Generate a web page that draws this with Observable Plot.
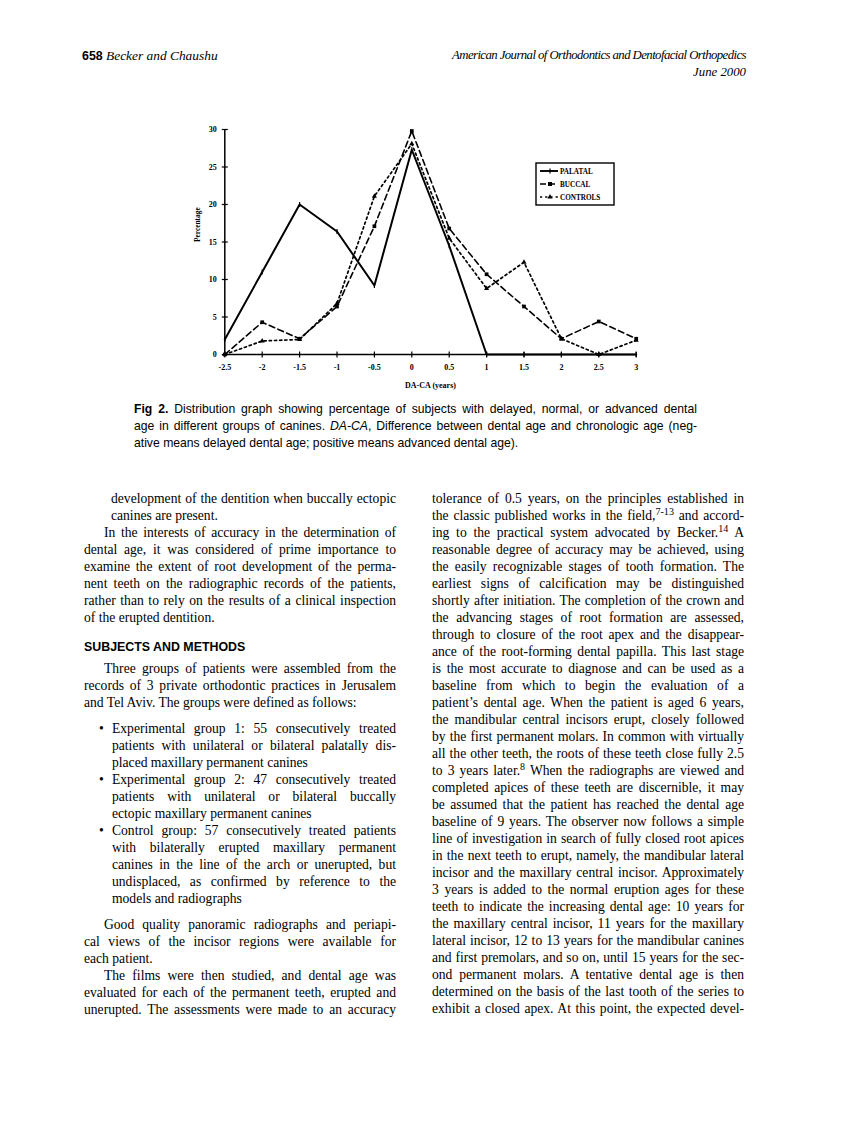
<!DOCTYPE html>
<html>
<head>
<meta charset="utf-8">
<script src="https://cdn.jsdelivr.net/npm/d3@7"></script>
<script src="https://cdn.jsdelivr.net/npm/@observablehq/plot@0.6"></script>
<style>
  html, body { margin: 0; padding: 0; background: #fff; }
  #page { position: relative; width: 866px; height: 1122px; overflow: hidden; background: #fff; color: #000; }
  .ln { position: absolute; white-space: nowrap; line-height: 17px; height: 17px; }
  .serif { font-family: "Liberation Serif", "Times New Roman", serif; font-size: 13.6px; }
  .sans { font-family: "Liberation Sans", Arial, sans-serif; }
  sup { font-size: 0.74em; line-height: 0; vertical-align: 0.45em; }
  #chart { position: absolute; left: 0; top: 100px; }
  #legend { position: absolute; left: 535px; top: 162px; }
</style>
</head>
<body>
<div id="page"></div>
<script>
// ---------------- chart data ----------------
const xTicks = [-2.5, -2, -1.5, -1, -0.5, 0, 0.5, 1, 1.5, 2, 2.5, 3];
const xTickLabels = ["-2.5", "-2", "-1.5", "-1", "-0.5", "0", "0.5", "1", "1.5", "2", "2.5", "3"];
const yTicks = [0, 5, 10, 15, 20, 25, 30];
const palatal  = [2.0, 11.0, 20.0, 16.4, 9.2, 27.3, 14.5, 0, 0, 0, 0, 0];
const buccal   = [0, 4.3, 2.1, 6.4, 17.1, 29.8, 16.8, 10.7, 6.4, 2.1, 4.4, 2.1];
const controls = [0, 1.8, 2.0, 6.8, 21.1, 28.1, 15.5, 8.8, 12.3, 2.1, 0, 1.9];
const seriesNames = ["PALATAL", "BUCCAL", "CONTROLS"];
const xLabel = "DA-CA (years)";
const yLabel = "Percentage";

// ---------------- page texts ----------------
const leftLines = [
  [500, 111, true,  "development of the dentition when buccally ectopic"],
  [517, 111, false, "canines are present."],
  [534, 104, true,  "In the interests of accuracy in the determination of"],
  [551, 84,  true,  "dental age, it was considered of prime importance to"],
  [568, 84,  true,  "examine the extent of root development of the perma-"],
  [585, 84,  true,  "nent teeth on the radiographic records of the patients,"],
  [602, 84,  true,  "rather than to rely on the results of a clinical inspection"],
  [619, 84,  false, "of the erupted dentition."],
  [670, 104, true,  "Three groups of patients were assembled from the"],
  [687, 84,  true,  "records of 3 private orthodontic practices in Jerusalem"],
  [704, 84,  false, "and Tel Aviv. The groups were defined as follows:"],
  [730, 112, true,  "Experimental group 1: 55 consecutively treated", true],
  [747, 112, true,  "patients with unilateral or bilateral palatally dis-"],
  [764, 112, false, "placed maxillary permanent canines"],
  [781, 112, true,  "Experimental group 2: 47 consecutively treated", true],
  [798, 112, true,  "patients with unilateral or bilateral buccally"],
  [815, 112, false, "ectopic maxillary permanent canines"],
  [832, 112, true,  "Control group: 57 consecutively treated patients", true],
  [849, 112, true,  "with bilaterally erupted maxillary permanent"],
  [866, 112, true,  "canines in the line of the arch or unerupted, but"],
  [883, 112, true,  "undisplaced, as confirmed by reference to the"],
  [900, 112, false, "models and radiographs"],
  [926, 104, true,  "Good quality panoramic radiographs and periapi-"],
  [943, 84,  true,  "cal views of the incisor regions were available for"],
  [960, 84,  false, "each patient."],
  [977, 104, true,  "The films were then studied, and dental age was"],
  [994, 84,  true,  "evaluated for each of the permanent teeth, erupted and"],
  [1011, 84, true,  "unerupted. The assessments were made to an accuracy"]
];
const rightTexts = [
  "tolerance of 0.5 years, on the principles established in",
  "the classic published works in the field,<sup>7-13</sup> and accord-",
  "ing to the practical system advocated by Becker.<sup>14</sup> A",
  "reasonable degree of accuracy may be achieved, using",
  "the easily recognizable stages of tooth formation. The",
  "earliest signs of calcification may be distinguished",
  "shortly after initiation. The completion of the crown and",
  "the advancing stages of root formation are assessed,",
  "through to closure of the root apex and the disappear-",
  "ance of the root-forming dental papilla. This last stage",
  "is the most accurate to diagnose and can be used as a",
  "baseline from which to begin the evaluation of a",
  "patient\u2019s dental age. When the patient is aged 6 years,",
  "the mandibular central incisors erupt, closely followed",
  "by the first permanent molars. In common with virtually",
  "all the other teeth, the roots of these teeth close fully 2.5",
  "to 3 years later.<sup>8</sup> When the radiographs are viewed and",
  "completed apices of these teeth are discernible, it may",
  "be assumed that the patient has reached the dental age",
  "baseline of 9 years. The observer now follows a simple",
  "line of investigation in search of fully closed root apices",
  "in the next teeth to erupt, namely, the mandibular lateral",
  "incisor and the maxillary central incisor. Approximately",
  "3 years is added to the normal eruption ages for these",
  "teeth to indicate the increasing dental age: 10 years for",
  "the maxillary central incisor, 11 years for the maxillary",
  "lateral incisor, 12 to 13 years for the mandibular canines",
  "and first premolars, and so on, until 15 years for the sec-",
  "ond permanent molars. A tentative dental age is then",
  "determined on the basis of the last tooth of the series to",
  "exhibit a closed apex. At this point, the expected devel-"
];
const captionLines = [
  [true,  "<b>Fig 2.</b> Distribution graph showing percentage of subjects with delayed, normal, or advanced dental"],
  [true,  "age in different groups of canines. <i>DA-CA</i>, Difference between dental age and chronologic age (neg-"],
  [false, "ative means delayed dental age; positive means advanced dental age)."]
];

const page = document.getElementById("page");

function placeLine(html, cls, x0, x1, yc, justify, fontSize) {
  const d = document.createElement("div");
  d.className = "ln " + cls;
  if (fontSize) d.style.fontSize = fontSize + "px";
  d.style.left = x0 + "px";
  d.style.top = (yc - 10) + "px";
  d.innerHTML = html;
  page.appendChild(d);
  const w = d.getBoundingClientRect().width;
  const avail = x1 - x0;
  const plain = d.textContent;
  const nSpaces = (plain.match(/ /g) || []).length;
  if (w > avail) {
    d.style.letterSpacing = ((avail - w) / plain.length) + "px";
    const w2 = d.getBoundingClientRect().width;
    if (justify && nSpaces && w2 < avail) d.style.wordSpacing = ((avail - w2) / nSpaces) + "px";
  } else if (justify && nSpaces) {
    d.style.wordSpacing = ((avail - w) / nSpaces) + "px";
  }
  return d;
}

// header
placeLine('<span class="sans" style="font-weight:bold;font-size:12.4px">658</span> <i>Becker and Chaushu</i>', "serif", 82, 230, 57, false, 13.4);
placeLine('<i>American Journal of Orthodontics and Dentofacial Orthopedics</i>', "serif", 452, 746, 57, true, 12.8);
const hd = placeLine('<i>June 2000</i>', "serif", 600, 746, 74, false, 12.8);
hd.style.left = (746 - hd.getBoundingClientRect().width) + "px";

// caption
captionLines.forEach(([j, t], i) => placeLine(t, "sans", 134, 697, 411 + 17 * i, j, 12.2));

// left column
leftLines.forEach(([y, x0, j, t, bullet]) => {
  placeLine(t, "serif", x0, 396, y, j);
  if (bullet) placeLine("\u2022", "serif", 99, 110, y, false);
});
// heading
placeLine("<b>SUBJECTS AND METHODS</b>", "sans", 84, 400, 649, false, 12.4);

// right column
rightTexts.forEach((t, i) => placeLine(t, "serif", 432, 744, 500 + 17 * i, true));

// ---------------- chart ----------------
const vtick = { draw(ctx, size) { const r = Math.sqrt(size / Math.PI); ctx.moveTo(0, -r); ctx.lineTo(0, r); } };
const htick = { draw(ctx, size) { const r = Math.sqrt(size / Math.PI); ctx.moveTo(-r, 0); ctx.lineTo(r, 0); } };

const rows = (vals) => xTicks.map((x, i) => ({ x, y: vals[i] }));
const pal = rows(palatal), buc = rows(buccal), con = rows(controls);
const lblFont = { fontFamily: "Liberation Serif, serif", fontWeight: "bold", fontSize: 8, fill: "#000" };

const chart = Plot.plot({
  width: 866,
  height: 300,
  marginLeft: 224.3,
  marginRight: 230.3,
  marginTop: 29,
  marginBottom: 46,
  x: { domain: [xTicks[0], xTicks[xTicks.length - 1]], axis: null },
  y: { domain: [yTicks[0], yTicks[yTicks.length - 1]], axis: null },
  style: { background: "transparent", overflow: "visible" },
  marks: [
    Plot.ruleY([0], { x1: xTicks[0], x2: xTicks[xTicks.length - 1], stroke: "#000", strokeWidth: 1.5 }),
    Plot.ruleX([xTicks[0]], { y1: yTicks[0], y2: yTicks[yTicks.length - 1], stroke: "#000", strokeWidth: 1.5 }),
    Plot.dot(xTicks, { x: d => d, y: 0, symbol: vtick, r: 3, fill: "none", stroke: "#000", strokeWidth: 1.2 }),
    Plot.dot(yTicks, { x: xTicks[0], y: d => d, symbol: htick, r: 3, fill: "none", stroke: "#000", strokeWidth: 1.2 }),
    Plot.text(xTicks, { x: d => d, y: 0, dy: 13, text: (d, i) => xTickLabels[i], textAnchor: "middle", lineAnchor: "middle", ...lblFont }),
    Plot.text(yTicks, { x: xTicks[0], y: d => d, dx: -8, text: d => String(d), textAnchor: "end", lineAnchor: "middle", ...lblFont }),
    Plot.text([xLabel], { frameAnchor: "bottom", dy: 31, lineAnchor: "middle", ...lblFont, fontSize: 8 }),
    Plot.text([yLabel], { frameAnchor: "left", dx: -27, rotate: -90, lineAnchor: "middle", ...lblFont, fontSize: 7.4 }),
    // lines
    Plot.line(con, { x: "x", y: "y", stroke: "#000", strokeWidth: 1.7, strokeDasharray: "2.2,3" }),
    Plot.line(buc, { x: "x", y: "y", stroke: "#000", strokeWidth: 1.6, strokeDasharray: "6,3.5" }),
    Plot.line(pal, { x: "x", y: "y", stroke: "#000", strokeWidth: 2 }),
    // markers
    Plot.dot(con, { x: "x", y: "y", symbol: "triangle", r: 1.9, fill: "#000", stroke: "none" }),
    Plot.dot(buc, { x: "x", y: "y", symbol: "square", r: 2.1, fill: "#000", stroke: "none" }),
    Plot.dot(pal, { x: "x", y: "y", symbol: vtick, r: 2.4, fill: "none", stroke: "#000", strokeWidth: 1.2 })
  ]
});
chart.id = "chart";
page.appendChild(chart);

// ---------------- legend ----------------
const leg = d3.create("svg").attr("id", "legend").attr("width", 82).attr("height", 46);
leg.append("rect").attr("x", 1).attr("y", 1).attr("width", 78).attr("height", 42)
  .attr("fill", "#fff").attr("stroke", "#000").attr("stroke-width", 1.4);
const legStyles = [
  { dash: null, w: 1.9, sym: "tick" },
  { dash: "6,3", w: 1.6, sym: "square" },
  { dash: "2.2,3", w: 1.7, sym: "triangle" }
];
seriesNames.forEach((name, i) => {
  const y = 9 + i * 13;
  const s = legStyles[i];
  const l = leg.append("line").attr("x1", 5).attr("x2", 23).attr("y1", y).attr("y2", y)
    .attr("stroke", "#000").attr("stroke-width", s.w);
  if (s.dash) l.attr("stroke-dasharray", s.dash);
  if (s.sym === "tick") leg.append("line").attr("x1", 15).attr("x2", 15).attr("y1", y - 2.4).attr("y2", y + 2.4).attr("stroke", "#000").attr("stroke-width", 1.2);
  if (s.sym === "square") leg.append("rect").attr("x", 13).attr("y", y - 2).attr("width", 4).attr("height", 4).attr("fill", "#000");
  if (s.sym === "triangle") leg.append("path").attr("d", d3.symbol(d3.symbolTriangle, 12)()).attr("transform", `translate(15,${y})`).attr("fill", "#000");
  leg.append("text").attr("x", 25).attr("y", y).attr("dy", "0.35em")
    .attr("font-family", "Liberation Serif, serif").attr("font-weight", "bold").attr("font-size", 7.2)
    .text(name);
});
page.appendChild(leg.node());
</script>
</body>
</html>
